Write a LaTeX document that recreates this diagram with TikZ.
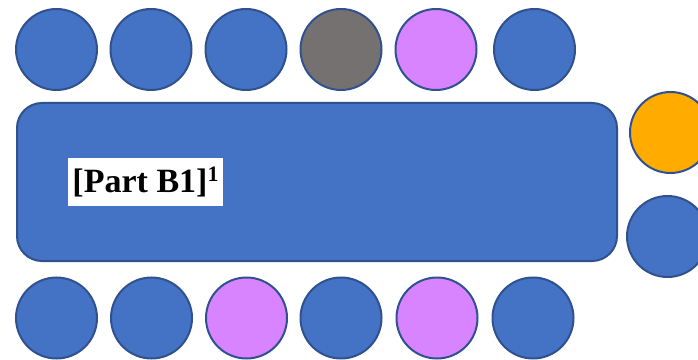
\documentclass[tikz,border=0pt]{standalone}
\usepackage{fontspec}
\setmainfont{Liberation Serif}
\usepackage{tikz}
\usetikzlibrary{positioning}
\definecolor{seatblue}{HTML}{4472C4}
\definecolor{seatedge}{HTML}{2F528F}
\definecolor{seatgray}{HTML}{767171}
\definecolor{seatpink}{HTML}{D883FF}
\definecolor{seatorange}{HTML}{FFAB00}
\tikzset{
  seat/.style={circle,draw=seatedge,line width=2pt,minimum size=81pt,inner sep=0pt,fill=seatblue},
  tablebox/.style={rectangle,draw=seatedge,line width=2pt,fill=seatblue,rounded corners=25pt,
    minimum width=600pt,minimum height=158pt,inner sep=0pt},
  tag/.style={fill=white,inner xsep=4pt,minimum height=48pt,font=\fontsize{34}{38}\selectfont\bfseries},
}
\begin{document}
\begin{tikzpicture}[x=1pt,y=1pt]
  \useasboundingbox (0,0) rectangle (698,359);
  \clip (0,0) rectangle (698,359);
  % long table
  \node[tablebox](B1) at (317,177){};
  \node[tag](lbl) at (145.5,177){[Part B1]\raisebox{11pt}{\fontsize{22}{24}\selectfont 1}};
  % top row of seats
  \foreach \x/\c [count=\i] in {56.5/seatblue,151/seatblue,246/seatblue,341/seatgray,436/seatpink,534.5/seatblue}
    \node[seat,fill=\c](t\i) at (\x,309.5){};
  % bottom row of seats
  \foreach \x/\c [count=\i] in {56.5/seatblue,151.5/seatblue,246.5/seatpink,341/seatblue,437/seatpink,533/seatblue}
    \node[seat,fill=\c](b\i) at (\x,41){};
  % head of the table
  \node[seat,fill=seatorange](r1) at (670.5,226.5){};
  \node[seat](r2) at (667.5,122.5){};
\end{tikzpicture}
\end{document}
